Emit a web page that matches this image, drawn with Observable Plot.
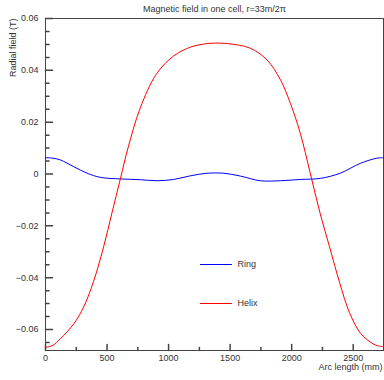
<!DOCTYPE html>
<html><head><meta charset="utf-8">
<script src="https://cdn.jsdelivr.net/npm/d3@7"></script>
<script src="https://cdn.jsdelivr.net/npm/@observablehq/plot@0.6"></script>
<style>body{margin:0;background:#fff;} #chart{width:384px;height:380px;}</style>
</head><body><div id="chart"></div>
<script>
const title = "Magnetic field in one cell, r=33m/2\u03c0";
const xLabel = "Arc length (mm)";
const yLabel = "Radial field (T)";
const seriesNames = ["Ring", "Helix"];
const seriesColors = ["#0000ff", "#ff0000"];

const ringArc = [0, 60, 122, 230, 338, 446, 609, 771, 907, 1041, 1177, 1312, 1447, 1583, 1745, 1907, 2070, 2232, 2394, 2557, 2692, 2746];
const ringField = [0.0063, 0.0061, 0.0054, 0.0028, 0.0003, -0.0013, -0.0019, -0.0022, -0.0026, -0.0021, -0.0007, 0.0003, 0.0003, -0.0008, -0.0026, -0.0026, -0.0021, -0.0017, 0.0003, 0.0041, 0.0061, 0.0063];

const helixArc = [0, 60, 120, 230, 310, 390, 470, 540, 610, 670, 770, 900, 1040, 1180, 1310, 1380, 1480, 1660, 1800, 1910, 1990, 2070, 2150, 2230, 2310, 2390, 2470, 2560, 2660, 2700, 2746];
const helixField = [-0.0669, -0.0661, -0.0636, -0.0578, -0.0513, -0.0415, -0.0285, -0.0150, -0.0015, 0.0100, 0.0255, 0.0385, 0.0455, 0.0490, 0.0503, 0.0505, 0.0503, 0.0486, 0.0440, 0.0362, 0.0272, 0.0157, 0.0005, -0.0150, -0.0285, -0.0420, -0.0535, -0.0615, -0.0655, -0.0663, -0.0666];

const xMajor = [0, 500, 1000, 1500, 2000, 2500];
const xMinor = [250, 750, 1250, 1750, 2250];
const yMajor = [-0.06, -0.04, -0.02, 0, 0.02, 0.04, 0.06];
const yMinor = [-0.065, -0.055, -0.05, -0.045, -0.035, -0.03, -0.025, -0.015, -0.01, -0.005, 0.005, 0.01, 0.015, 0.025, 0.03, 0.035, 0.045, 0.05, 0.055];

const ring = ringArc.map((x, i) => ({x, y: ringField[i]}));
const helix = helixArc.map((x, i) => ({x, y: helixField[i]}));

const lineShape = {draw(context, l) { context.moveTo(0, 0); context.lineTo(0, -l); }};
const fmt = d => d === 0 ? "0" : d3.format(".2f")(d).replace("-", "\u2212");
const txt = "#333";
const legendDy = [246, 285];

const chart = Plot.plot({
  width: 384, height: 380,
  marginLeft: 45, marginRight: 1, marginTop: 18, marginBottom: 30,
  style: {fontFamily: "'Liberation Sans', Arial, sans-serif", fontSize: "9px", background: "#fff"},
  x: {domain: [0, 2746], axis: null},
  y: {domain: [-0.0681, 0.06], axis: null},
  marks: [
    Plot.frame({stroke: "#444"}),
    Plot.line(ring, {x: "x", y: "y", stroke: seriesColors[0], strokeWidth: 1, curve: "catmull-rom"}),
    Plot.line(helix, {x: "x", y: "y", stroke: seriesColors[1], strokeWidth: 1, curve: "catmull-rom"}),
    Plot.vector(yMajor, {y: d => d, frameAnchor: "left", length: 7, rotate: 90, anchor: "start", shape: lineShape, stroke: "#444"}),
    Plot.vector(yMinor, {y: d => d, frameAnchor: "left", length: 3.5, rotate: 90, anchor: "start", shape: lineShape, stroke: "#444"}),
    Plot.vector(xMajor, {x: d => d, frameAnchor: "bottom", length: 6, rotate: 0, anchor: "start", shape: lineShape, stroke: "#444"}),
    Plot.vector(xMinor, {x: d => d, frameAnchor: "bottom", length: 3, rotate: 0, anchor: "start", shape: lineShape, stroke: "#444"}),
    Plot.text(yMajor, {y: d => d, text: fmt, frameAnchor: "left", textAnchor: "end", dx: -7, fill: txt}),
    Plot.text(xMajor, {x: d => d, text: d => String(d), frameAnchor: "bottom", lineAnchor: "top", dy: 4, fill: txt}),
    Plot.text([title], {text: d => d, frameAnchor: "top", dy: -7, lineAnchor: "bottom", fill: txt}),
    Plot.text([xLabel], {text: d => d, frameAnchor: "bottom-right", textAnchor: "end", lineAnchor: "top", dy: 13, dx: -1, fill: txt}),
    Plot.text([yLabel], {text: d => d, frameAnchor: "top-left", rotate: -90, textAnchor: "end", lineAnchor: "middle", dx: -32, dy: 0, fill: txt}),
    ...seriesNames.flatMap((name, i) => [
      Plot.vector([name], {frameAnchor: "top-left", dx: 155, dy: legendDy[i], length: 31, rotate: 90, anchor: "start", shape: lineShape, stroke: seriesColors[i], strokeWidth: 1}),
      Plot.text([name], {text: d => d, frameAnchor: "top-left", dx: 192, dy: legendDy[i], textAnchor: "start", lineAnchor: "middle", fill: txt})
    ])
  ]
});
document.getElementById("chart").appendChild(chart);
</script></body></html>
